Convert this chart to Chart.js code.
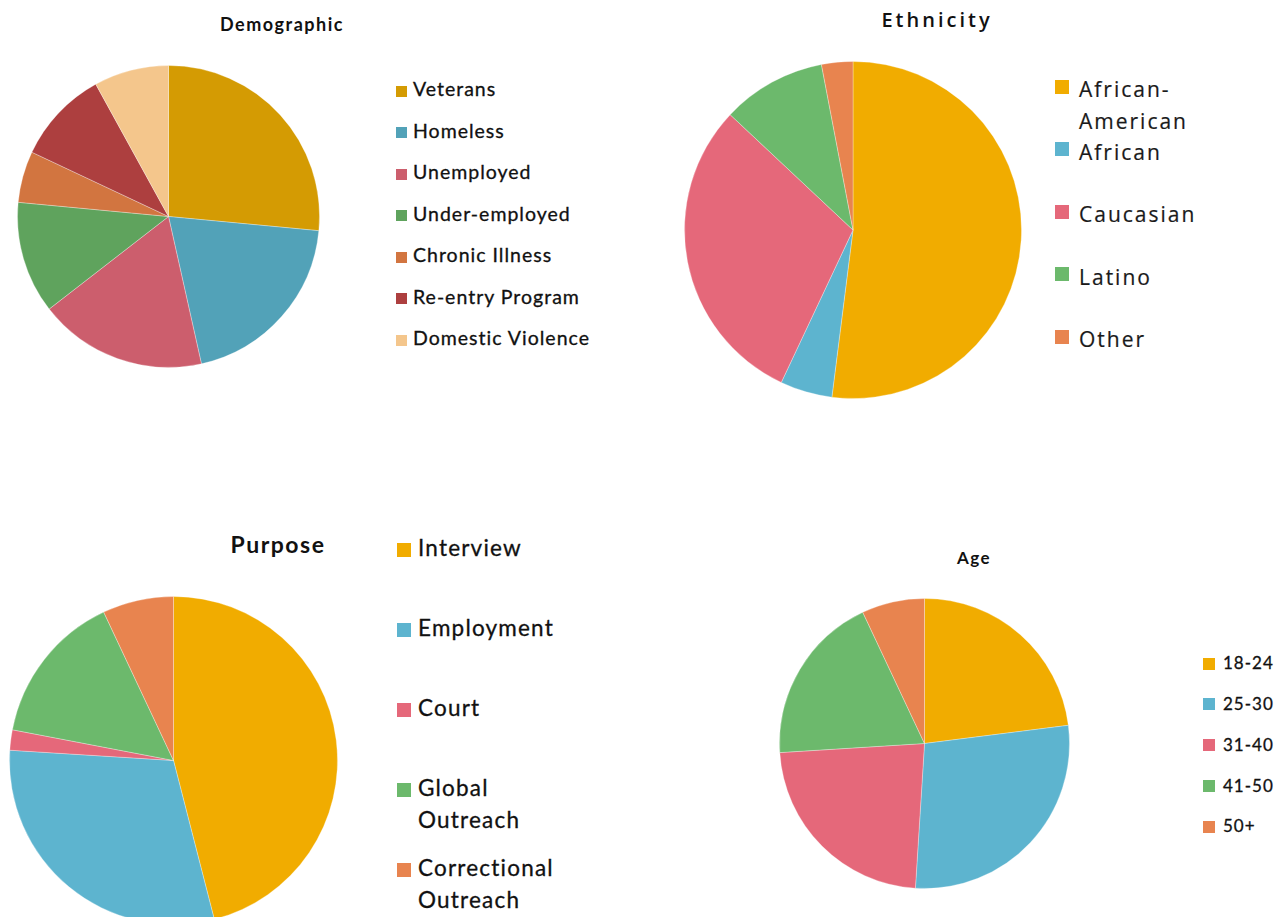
<!DOCTYPE html>
<html>
<head>
<meta charset="utf-8">
<script src="https://cdn.jsdelivr.net/npm/chart.js@4.4.0/dist/chart.umd.min.js"></script>
<style>
    body { margin: 0; background: #fff; width: 1283px; height: 917px; overflow: hidden; position: relative; }
    canvas { position: absolute; }
    .title { position: absolute; text-align: center; color: #111; white-space: nowrap; }
    .legend { position: absolute; color: #111; -webkit-text-stroke: 0.3px #111; }
    .legend .item { position: relative; }
    .legend .box { position: absolute; left: 0; }
    .legend .text { display: block; }

    #demoTitle { left: 182px; width: 200px; top: 12.7px; font: bold 18px Lato; line-height: 22px; letter-spacing: 1.5px; }
    #ethTitle { left: 837px; width: 200px; top: 5.5px; font: 600 20px "Open Sans"; line-height: 28px; letter-spacing: 3px; }
    #purposeTitle { left: 178px; width: 200px; top: 530.4px; font: bold 23px Lato; line-height: 28px; letter-spacing: 1.5px; }
    #ageTitle { left: 874px; width: 200px; top: 548.4px; font: bold 17px Lato; line-height: 20px; letter-spacing: 1.5px; }

    #demoLegend { left: 396px; top: 77.2px; font: 19.5px Lato; line-height: 24px; letter-spacing: 1px; }
    #demoLegend .item { height: 41.5px; }
    #demoLegend .box { width: 11px; height: 11px; top: 8.8px; }
    #demoLegend .text { margin-left: 17px; }

    #ethLegend { left: 1055px; top: 74.4px; font: 21px "Open Sans"; line-height: 31.5px; letter-spacing: 2px; color: #1a1a1a; -webkit-text-stroke: 0.2px #1a1a1a; }
    #ethLegend .item { height: 62.5px; }
    #ethLegend .box { width: 14px; height: 14px; top: 5.6px; }
    #ethLegend .text { margin-left: 24px; width: 160px; }

    #purposeLegend { left: 397px; top: 532.2px; font: 22.5px Lato; line-height: 32px; letter-spacing: 1.2px; }
    #purposeLegend .item { height: 80px; }
    #purposeLegend .box { width: 14px; height: 14px; top: 10.8px; }
    #purposeLegend .text { margin-left: 21px; width: 145px; }

    #ageLegend { left: 1203px; top: 653.2px; font: 17px Lato; line-height: 20px; letter-spacing: 1px; }
    #ageLegend .item { height: 40.8px; }
    #ageLegend .box { width: 12px; height: 12px; top: 4.4px; }
    #ageLegend .text { margin-left: 20px; }
</style>
</head>
<body>
<div class="title" id="demoTitle">Demographic</div>
<div class="title" id="ethTitle">Ethnicity</div>
<div class="title" id="purposeTitle">Purpose</div>
<div class="title" id="ageTitle">Age</div>

<canvas id="demoChart"></canvas>
<canvas id="ethChart"></canvas>
<canvas id="purposeChart"></canvas>
<canvas id="ageChart"></canvas>

<div class="legend" id="demoLegend"></div>
<div class="legend" id="ethLegend"></div>
<div class="legend" id="purposeLegend"></div>
<div class="legend" id="ageLegend"></div>

<script>
// shares per category, in percent
var demographicLabels = ['Veterans', 'Homeless', 'Unemployed', 'Under-employed', 'Chronic Illness', 'Re-entry Program', 'Domestic Violence'];
var demographicValues = [26.5, 20, 18, 12, 5.5, 10, 8];

var ethnicityLabels = ['African-American', 'African', 'Caucasian', 'Latino', 'Other'];
var ethnicityValues = [52, 5, 30, 10, 3];

var purposeLabels = ['Interview', 'Employment', 'Court', 'Global Outreach', 'Correctional Outreach'];
var purposeValues = [46, 30, 2, 15, 7];

var ageLabels = ['18-24', '25-30', '31-40', '41-50', '50+'];
var ageValues = [23, 28, 23, 19, 7];

// slice colours
var demographicColors = ['#D49B03', '#52A2B8', '#CC5E6D', '#5FA35D', '#D27540', '#AD3F3F', '#F4C68C'];
var brightColors = ['#F1AC00', '#5DB4CF', '#E5687A', '#6CB96C', '#E8844F'];

// pie centre and radius on the page
var pieBoxes = {
    demoChart: { cx: 168, cy: 216, r: 151 },
    ethChart: { cx: 852.5, cy: 230, r: 168.5 },
    purposeChart: { cx: 173, cy: 760, r: 164 },
    ageChart: { cx: 924, cy: 743.5, r: 145 }
};

function makePie(id, labels, values, colors) {
    var box = pieBoxes[id];
    var canvas = document.getElementById(id);
    var size = Math.round(box.r * 2 + 1);
    canvas.width = size;
    canvas.height = size;
    canvas.style.left = (box.cx - size / 2) + 'px';
    canvas.style.top = (box.cy - size / 2) + 'px';

    return new Chart(canvas.getContext('2d'), {
        type: 'pie',
        data: {
            labels: labels,
            datasets: [{
                data: values,
                backgroundColor: colors,
                borderColor: 'rgba(255, 255, 255, 0.3)',
                borderWidth: 1
            }]
        },
        options: {
            responsive: false,
            animation: false,
            events: [],
            layout: { padding: 0 },
            plugins: {
                legend: { display: false },
                tooltip: { enabled: false },
                title: { display: false }
            }
        }
    });
}

function buildLegend(id, labels, colors) {
    var el = document.getElementById(id);
    labels.forEach(function (label, i) {
        var item = document.createElement('div');
        item.className = 'item';
        var sq = document.createElement('span');
        sq.className = 'box';
        sq.style.background = colors[i];
        var txt = document.createElement('span');
        txt.className = 'text';
        txt.textContent = label;
        item.appendChild(sq);
        item.appendChild(txt);
        el.appendChild(item);
    });
}

makePie('demoChart', demographicLabels, demographicValues, demographicColors);
makePie('ethChart', ethnicityLabels, ethnicityValues, brightColors);
makePie('purposeChart', purposeLabels, purposeValues, brightColors);
makePie('ageChart', ageLabels, ageValues, brightColors);

buildLegend('demoLegend', demographicLabels, demographicColors);
buildLegend('ethLegend', ethnicityLabels, brightColors);
buildLegend('purposeLegend', purposeLabels, brightColors);
buildLegend('ageLegend', ageLabels, brightColors);
</script>
</body>
</html>
